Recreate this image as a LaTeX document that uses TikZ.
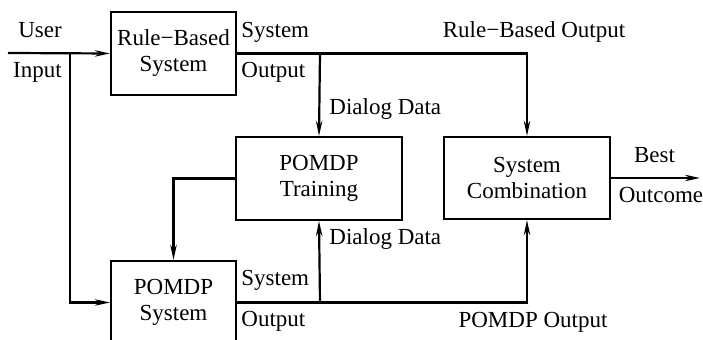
\documentclass[tikz,border=0pt]{standalone}
\usepackage{fontspec}
\setmainfont{Liberation Serif}
\usetikzlibrary{arrows.meta,positioning}
\tikzset{>={Stealth[length=7.5pt,width=3.2pt]}}
\tikzset{
  blockbox/.style={draw,line width=1.1pt,align=center,inner sep=0pt},
  lbl/.style={inner sep=0pt,anchor=base},
  lblw/.style={inner sep=0pt,anchor=base west},
  flow/.style={line width=1.1pt}
}

\begin{document}
\begin{tikzpicture}[x=0.5pt,y=-0.5pt,font=\fontsize{11.5}{13}\selectfont]
    \useasboundingbox (0,0) rectangle (703,340);
    % blocks
    \node[blockbox,minimum width=62.5pt,minimum height=41.5pt] (rb) at (173.5,53.5) {Rule−Based\\System};
    \node[blockbox,minimum width=83pt,minimum height=41.5pt] (train) at (319,178.5) {POMDP\\Training};
    \node[blockbox,minimum width=83pt,minimum height=41pt] (comb) at (527,178) {System\\Combination};
    \node[blockbox,minimum width=62.5pt,minimum height=41.5pt] (psys) at (173.5,302.5) {POMDP\\System};
    \coordinate (usr) at (8,53);
    \coordinate (split) at (70,53);
    \coordinate (rbsplit) at (320,53);
    \coordinate (psplit) at (320,302);
    \coordinate (best) at (700,178);
    % connectors
    \draw[flow,->] (usr) -- (rb.west);
    \draw[flow,->] (split) |- (psys.west);
    \draw[flow,->] (rb.east) -| (comb.north);
    \draw[flow,->] (rbsplit) -- (train.north);
    \draw[flow,->] (train.west) -| (psys.north);
    \draw[flow,->] (psys.east) -| (comb.south);
    \draw[flow,->] (psplit) -- (train.south);
    \draw[flow,->] (comb.east) -- (best);
    % labels
    \node[lbl] (user) at (40,38) {User};
    \node[lbl] (input) at (37.5,78) {Input};
    \node[lblw] (rbs) at (241,38) {System};
    \node[lblw] (rbo) at (241,78) {Output};
    \node[lbl] (rbout) at (534,38) {Rule−Based Output};
    \node[lblw] (dd1) at (329,115) {Dialog Data};
    \node[lblw] (dd2) at (329,245) {Dialog Data};
    \node[lbl] (bst) at (654.5,163) {Best};
    \node[lbl] (outc) at (661,203) {Outcome};
    \node[lblw] (ps) at (241,286) {System};
    \node[lblw] (po) at (241,327) {Output};
    \node[lbl] (pout) at (533,328) {POMDP Output};
\end{tikzpicture}
\end{document}
